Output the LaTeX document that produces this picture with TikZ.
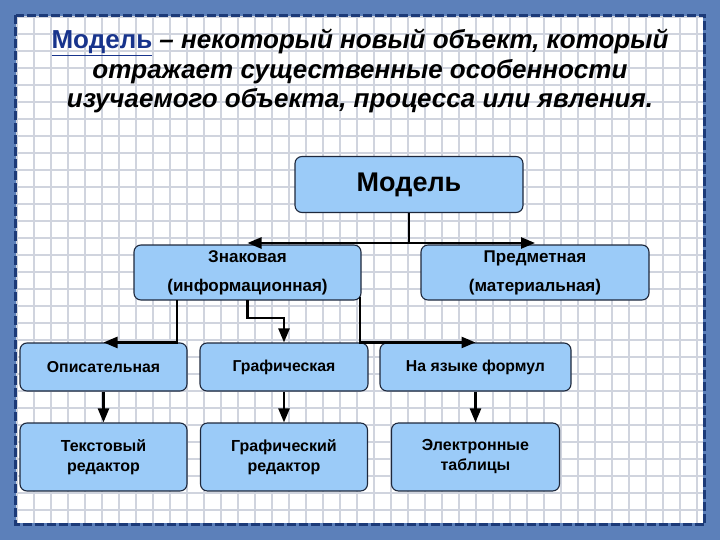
\documentclass[tikz,border=0pt]{standalone}
\usepackage{fontspec}
\setmainfont{Liberation Sans}
\usepackage{tikz}
\usetikzlibrary{positioning, arrows.meta}

\definecolor{frameblue}{RGB}{92,128,186}
\definecolor{dashblue}{RGB}{28,58,120}
\definecolor{titleblue}{RGB}{24,52,140}
\definecolor{boxfill}{RGB}{155,203,248}
\definecolor{boxline}{RGB}{30,40,60}
\definecolor{gridgray}{RGB}{208,212,222}

\begin{document}
\begin{tikzpicture}[x=1pt, y=-1pt,
    box/.style = {shape = rectangle, draw = boxline, fill = boxfill, line width = 1.1pt,
                  rounded corners = 7pt, align = center, inner sep = 0pt},
    link/.style = {line width = 2.4pt, line join = miter},
    arr/.style = {link, -{Triangle[length = 14pt, width = 11pt]}}]
                    \useasboundingbox (0, 0) rectangle (720, 540);
                    \fill [frameblue] (0, 0) rectangle (720, 540);
                    \fill [white] (17, 17) rectangle (703, 523);
                    \draw [gridgray, line width = 1.1pt, step = 17pt] (17, 17) grid (703, 523);
                    \draw [dashblue, line width = 3pt, dash pattern = on 9pt off 3pt] (15.5, 15.5) rectangle (704.5, 524.5);

                    \node [align = center, font = \bfseries\itshape\fontsize{26}{29.5}\selectfont] (def) at (360, 71)
                        {{\upshape\color{titleblue}\underline{Модель}} -- некоторый новый объект, который\\
                         отражает существенные особенности\\
                         изучаемого объекта, процесса или явления.};

                    \node [box, minimum width = 228pt, minimum height = 56pt, font = \bfseries\fontsize{27}{30}\selectfont] (model) at (409, 184.5) {Модель};
                    \node [box, minimum width = 227pt, minimum height = 55pt, font = \bfseries\fontsize{17}{29}\selectfont] (sign) at (247.5, 272.5) {Знаковая\\(информационная)};
                    \node [box, minimum width = 228pt, minimum height = 55pt, font = \bfseries\fontsize{17}{29}\selectfont] (thing) at (535, 272.5) {Предметная\\(материальная)};

                    \node [box, minimum width = 167pt, minimum height = 48pt, font = \bfseries\fontsize{15.8}{18}\selectfont] (desc) at (103.5, 367) {Описательная};
                    \node [box, minimum width = 168pt, minimum height = 48pt, font = \bfseries\fontsize{15.8}{18}\selectfont] (graph) at (284, 367) {Графическая};
                    \node [box, minimum width = 191pt, minimum height = 48pt, font = \bfseries\fontsize{15.8}{18}\selectfont] (formula) at (475.5, 367) {На языке формул};

                    \node [box, minimum width = 167pt, minimum height = 68pt, font = \bfseries\fontsize{16}{20}\selectfont] (texted) at (103.5, 457) {Текстовый\\редактор};
                    \node [box, minimum width = 167pt, minimum height = 68pt, font = \bfseries\fontsize{16}{20}\selectfont] (graphed) at (284, 457) {Графический\\редактор};
                    \node [box, minimum width = 168pt, minimum height = 68pt, font = \bfseries\fontsize{16}{20}\selectfont] (sheets) at (475.5, 457) {Электронные\\таблицы};

                    \coordinate (fork) at (409, 243);
                    \coordinate (s1) at (177, 300);
                    \coordinate (s2) at (247.5, 300);
                    \coordinate (s3) at (360, 297);
                    \coordinate (bend) at (247.5, 318);

                    \draw [link] (model.south) -- (fork);
                    \draw [arr] (fork) -- (fork -| sign.north);
                    \draw [arr] (fork) -- (fork -| thing.north);

                    \draw [arr] (s1) |- (desc.north);
                    \draw [arr] (s2) -- (bend) -| (graph.north);
                    \draw [arr] (s3) |- (formula.north);

                    \draw [arr] (desc.south) -- (texted.north);
                    \draw [arr] (graph.south) -- (graphed.north);
                    \draw [arr] (formula.south) -- (sheets.north);
                \end{tikzpicture}
\end{document}
